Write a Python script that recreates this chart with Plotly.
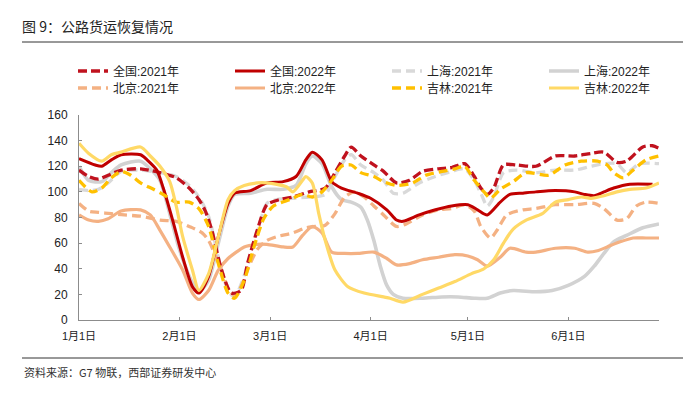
import plotly.graph_objects as go

# ---- data (day offset from Jan 1, value) ----
tick_days = [0, 31, 59, 90, 120, 151]
tick_labels = ["1月1日", "2月1日", "3月1日", "4月1日", "5月1日", "6月1日"]

qg21_days = [0,3,6,9,13,19,25,30,34,37,39,41,44,47,50,52,55,58,62,66,71,76,79,82,84,87,91,94,98,102,106,111,115,119,122,124,126,128,131,135,141,147,153,158,162,166,169,174,177,179]
qg21_vals = [117,112,110,113,117,118,115,111,103,94,85,70,39,21,23,44,70,90,94,96,100,103,115,128,135,128,121,116,107,109,116,118,119,122,112,103,98,103,121,121,120,128,128,130,131,123,124,135,136,134]

qg22_days = [0,5,7,10,13,19,21,24,26,29,32,35,37,40,43,46,48,53,58,63,67,70,72,75,78,81,86,90,95,98,100,105,110,115,120,123,126,130,133,137,141,147,153,156,159,162,165,170,177]
qg22_vals = [126,121,120,125,129,129,125,117,103,77,49,26,21,34,65,91,99,101,107,108,112,125,131,125,108,103,99,95,86,78,77,82,86,89,90,86,82,92,98,99,100,101,100,98,97,100,103,106,106]

sh21_days = [0,3,6,9,13,19,25,30,34,37,40,43,46,48,52,55,58,61,66,71,76,79,82,84,87,91,94,97,100,105,110,115,119,122,124,126,128,131,135,141,147,153,158,162,166,169,173,179]
sh21_vals = [102,101,102,107,116,117,115,112,105,96,81,49,23,18,42,68,91,94,95,96,98,112,125,129,121,115,109,99,99,107,112,116,118,109,99,89,96,115,117,115,117,117,120,122,122,115,122,122]

sh22_days = [0,3,7,10,13,19,22,25,28,31,35,37,40,43,46,48,53,58,63,67,70,72,75,78,81,84,87,89,91,93,95,97,100,106,112,117,122,126,130,134,141,146,151,156,159,162,165,169,174,179]
sh22_vals = [120,109,108,115,121,124,118,109,83,55,29,22,31,60,89,98,99,102,102,105,122,128,122,104,94,92,88,78,62,42,27,20,17,17,18,18,17,17,21,23,22,23,27,34,42,52,61,66,72,75]

bj21_days = [0,3,6,10,14,19,25,30,34,38,40,42,44,46,48,50,52,55,58,61,66,70,73,76,79,82,85,88,91,94,98,101,106,111,115,119,122,124,127,129,132,137,141,147,153,159,162,166,169,172,175,179]
bj21_vals = [91,85,84,83,82,81,78,77,73,68,62,51,39,25,19,26,39,55,62,65,68,72,73,74,83,96,100,96,89,82,73,75,82,86,87,90,85,73,64,70,82,86,87,90,90,91,87,78,79,89,92,91]

bj22_days = [0,3,6,9,13,19,22,25,28,32,35,37,40,43,46,48,51,55,58,63,66,69,72,75,78,82,86,91,95,98,102,106,111,116,120,123,126,130,133,138,141,147,153,157,160,163,167,171,175,179]
bj22_vals = [82,78,77,79,85,86,82,70,57,39,21,16,23,39,48,52,57,59,59,57,57,66,73,68,53,52,52,53,48,43,44,47,49,51,50,47,42,49,56,53,53,56,56,53,54,57,61,64,64,64]

jl21_days = [0,4,7,10,13,16,19,23,26,30,34,37,40,43,46,48,51,54,57,60,65,69,72,75,78,81,84,87,91,94,98,103,107,112,116,119,122,125,127,130,134,138,145,150,155,160,163,165,168,171,175,179]
jl21_vals = [109,100,103,111,116,113,107,102,98,92,92,87,73,44,21,17,31,57,79,89,94,98,96,100,109,120,121,115,112,108,105,107,113,116,118,120,109,100,95,102,108,115,113,121,124,124,121,115,111,117,125,128]

jl22_days = [0,3,7,10,13,19,22,25,28,30,32,35,37,40,43,46,48,51,55,58,64,66,69,70,72,74,76,79,83,88,94,96,100,106,111,116,121,125,128,131,134,138,143,147,151,155,158,162,166,170,175,179]
jl22_vals = [138,130,124,129,131,135,128,120,108,89,65,39,23,36,65,94,101,105,107,107,104,100,109,112,107,83,62,39,26,21,18,17,14,20,25,30,36,40,47,60,71,78,83,92,94,96,95,97,100,102,103,107]

# ---- styles ----
series = [
    # name, days, vals, color, dash, width, legend, rank
    ("上海:2021年", sh21_days, sh21_vals, "#D9D9D9", "9px,5px", 3.3, "legend", 3),
    ("上海:2022年", sh22_days, sh22_vals, "#D2D2D2", "solid", 3.6, "legend", 4),
    ("北京:2021年", bj21_days, bj21_vals, "#F4B183", "9px,5px", 3.3, "legend2", 1),
    ("北京:2022年", bj22_days, bj22_vals, "#F4B183", "solid", 3.2, "legend2", 2),
    ("全国:2021年", qg21_days, qg21_vals, "#C0121E", "9px,4px", 3.3, "legend", 1),
    ("全国:2022年", qg22_days, qg22_vals, "#C00000", "solid", 3.0, "legend", 2),
    ("吉林:2021年", jl21_days, jl21_vals, "#FFC000", "9px,5px", 3.3, "legend2", 3),
    ("吉林:2022年", jl22_days, jl22_vals, "#FFD966", "solid", 3.2, "legend2", 4),
]

FONT = "Liberation Sans, Arial, Noto Sans CJK SC, sans-serif"

fig = go.Figure()
for name, d, v, c, dash, w, lg, rk in series:
    fig.add_trace(go.Scatter(
        x=d, y=v, mode="lines", name=name,
        line=dict(color=c, width=w, dash=dash, shape="spline", smoothing=0.7),
        legend=lg, legendrank=rk, hoverinfo="skip",
    ))

W, H = 693, 397
L, R, T, B = 79, 34, 115, 77
pw, ph = W - L - R, H - T - B

def px_x(px):
    return (px - L) / pw

def px_y(py):
    return (H - B - py) / ph

legend_common = dict(
    orientation="h", xanchor="left", yanchor="middle",
    font=dict(family=FONT, size=12, color="#222"),
    itemwidth=30, entrywidth=112, entrywidthmode="pixels",
    bgcolor="rgba(0,0,0,0)", borderwidth=0, traceorder="normal",
    itemclick=False, itemdoubleclick=False,
)

fig.update_layout(
    width=W, height=H,
    margin=dict(l=L, r=R, t=T, b=B, autoexpand=False),
    paper_bgcolor="white", plot_bgcolor="white",
    showlegend=True,
    legend=dict(x=px_x(73), y=px_y(71), **legend_common),
    legend2=dict(x=px_x(73), y=px_y(88), **legend_common),
    title=dict(text="图 9：公路货运恢复情况", x=22 / W, xanchor="left",
               y=1 - 27 / H, yanchor="middle",
               font=dict(family="Noto Sans CJK SC, sans-serif", size=14, color="#222")),
    xaxis=dict(range=[0, 179], tickvals=tick_days, ticktext=tick_labels,
               showgrid=False, zeroline=False, showline=True, linecolor="#8c8c8c",
               linewidth=1, ticks="inside", ticklen=3, tickcolor="#8c8c8c",
               tickfont=dict(family=FONT, size=11, color="#222"),
               ticklabelstandoff=6, fixedrange=True),
    yaxis=dict(range=[0, 160], dtick=20, tick0=0,
               showgrid=False, zeroline=False, showline=True, linecolor="#8c8c8c",
               linewidth=1, ticks="inside", ticklen=3, tickcolor="#8c8c8c",
               tickfont=dict(family=FONT, size=12, color="#222"),
               ticklabelstandoff=8, fixedrange=True),
    shapes=[
        dict(type="line", xref="paper", yref="paper", x0=px_x(22), x1=px_x(683),
             y0=px_y(42), y1=px_y(42), line=dict(color="#333", width=1)),
        dict(type="line", xref="paper", yref="paper", x0=px_x(22), x1=px_x(683),
             y0=px_y(358), y1=px_y(358), line=dict(color="#333", width=1)),
    ],
    annotations=[
        dict(text="资料来源：G7 物联，西部证券研发中心", xref="paper", yref="paper",
             x=px_x(22), y=px_y(372), xanchor="left", yanchor="middle", showarrow=False,
             font=dict(family="Noto Sans CJK SC, sans-serif", size=11, color="#333")),
    ],
)

fig.write_html("out.html", config={"displayModeBar": False, "staticPlot": True},
               post_script="document.body.style.margin='0';")
